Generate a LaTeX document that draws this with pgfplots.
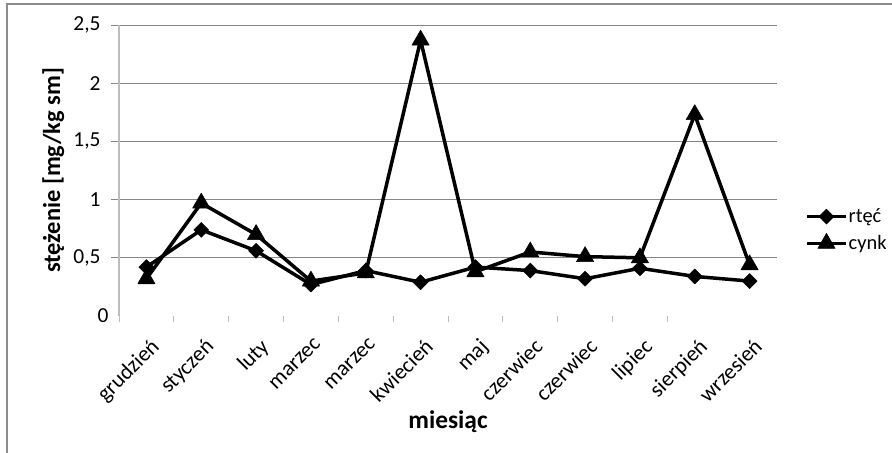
\documentclass[border=0pt]{standalone}
\usepackage{fontspec}
\setmainfont{Carlito}
\usepackage{pgfplots}
\usepackage{pgfplotstable}
\pgfplotsset{compat=1.18}

\definecolor{gridgray}{HTML}{868686}
\definecolor{axisgray}{HTML}{BDBDBD}
\definecolor{framegray}{HTML}{8C8C8C}

% stężenie rtęci i cynku [mg/kg sm] w kolejnych miesiącach
\pgfplotstableread{
idx rtec cynk
0   0.42 0.32
1   0.74 0.97
2   0.56 0.70
3   0.27 0.30
4   0.39 0.37
5   0.29 2.37
6   0.42 0.38
7   0.39 0.55
8   0.32 0.51
9   0.41 0.50
10  0.34 1.73
11  0.30 0.44
}\dane

\pgfplotsset{
  longlegend/.style={
    legend image code/.code={
      \draw[##1, mark repeat=2, mark phase=2]
        plot coordinates {(0bp,0bp) (19.5bp,0bp) (39bp,0bp)};}},
}

\begin{document}
\begin{tikzpicture}
\path[use as bounding box] (0,0) rectangle (892bp,453bp);
\draw[framegray, line width=1.2bp] (7bp,0bp) -- (7bp,449bp) -- (892bp,449bp);
\begin{axis}[
  at={(119bp,137bp)}, anchor=south west,
  width=658bp, height=291bp, scale only axis,
  xmin=-0.5, xmax=11.5, ymin=0, ymax=2.5,
  axis lines*=left,
  x axis line style={draw=none},
  y axis line style={axisgray, line width=1.2bp},
  tick align=outside,
  xtick={0,...,11},
  xticklabels={grudzień,styczeń,luty,marzec,marzec,kwiecień,maj,czerwiec,czerwiec,lipiec,sierpień,wrzesień},
  major x tick style={draw=none},
  minor xtick={-0.5,0.5,1.5,2.5,3.5,4.5,5.5,6.5,7.5,8.5,9.5},
  minor x tick style={axisgray, line width=0.9bp},
  minor tick length=6bp,
  ytick={0.5,1,1.5,2,2.5},
  extra y ticks={0},
  extra y tick style={grid=none, major tick length=0pt},
  major tick length=8bp,
  y tick style={gridgray, line width=0.9bp},
  ymajorgrids,
  major grid style={gridgray, line width=0.9bp},
  /pgf/number format/use comma,
  /pgf/number format/assume math mode=true,
  yticklabel shift=7bp,
  yticklabel style={font=\fontsize{21.5}{21.5}\selectfont, text=black},
  xticklabel style={font=\fontsize{22}{22}\selectfont, text=black,
    xshift=3bp, yshift=-13bp, rotate=45, anchor=north east, inner sep=0pt},
  xlabel={miesiąc},
  ylabel={stężenie [mg/kg sm]},
  xlabel style={font=\fontsize{25.5}{25.5}\selectfont\bfseries,
    at={(axis description cs:0.5,-0.385)}, anchor=base},
  ylabel style={font=\fontsize{24.5}{24.5}\selectfont\bfseries,
    at={(axis description cs:-0.100,0.50)}, anchor=center, rotate=0},
  legend style={at={(1.0426,0.2955)}, anchor=west, draw=none, fill=none,
    font=\fontsize{20.5}{20.5}\selectfont, inner sep=0pt, row sep=8bp,
    nodes={inner sep=1bp},
    /tikz/every even column/.append style={column sep=0bp}},
  legend cell align=left,
]
\addplot[black, line width=3.5bp, line join=round, longlegend,
  mark=square*, mark size=5.3bp, mark options={rotate=45, line width=0.5bp}]
  table[x=idx, y=rtec]{\dane};
\addlegendentry{rtęć}
\addplot[black, line width=3.5bp, line join=round, longlegend,
  mark=triangle*, mark size=10bp, mark options={line width=0.5bp}]
  table[x=idx, y=cynk]{\dane};
\addlegendentry{cynk}
\end{axis}
\end{tikzpicture}
\end{document}
